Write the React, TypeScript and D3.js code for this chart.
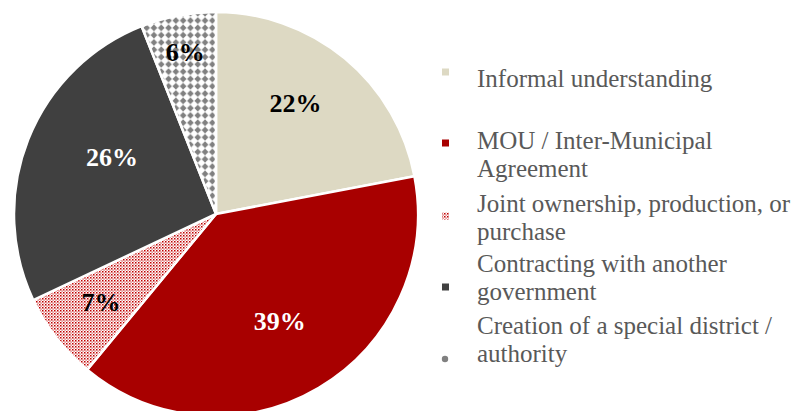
import React, { useEffect, useRef } from 'react';
import * as d3 from 'd3';

// Pie data (start at 12 o'clock, clockwise)
const categories = [
  'Informal understanding',
  'MOU / Inter-Municipal Agreement',
  'Joint ownership, production, or purchase',
  'Contracting with another government',
  'Creation of a special district / authority'
];
const values = [22, 39, 7, 26, 6];
const fills = ['#DDD9C3', '#A80000', 'url(#dots)', '#404040', 'url(#diamonds)'];
const labelColors = ['#000000', '#FFFFFF', '#000000', '#FFFFFF', '#000000'];
// legend text is wrapped the same way as in the original
const legendLines = [
  ['Informal understanding'],
  ['MOU / Inter-Municipal', 'Agreement'],
  ['Joint ownership, production, or', 'purchase'],
  ['Contracting with another', 'government'],
  ['Creation of a special district /', 'authority']
];

const App: React.FC = () => {
  const ref = useRef<SVGSVGElement>(null);

  useEffect(() => {
    if (!ref.current) return;
    const svg = d3.select(ref.current);
    svg.selectAll('*').remove();

    const width = 809;
    const height = 411;
    const cx = 216;
    const cy = 214;
    const radius = 202;
    const serif = '"Liberation Serif", "Times New Roman", Times, serif';

    const defs = svg.append('defs');
    // fine red dot pattern
    const dots = defs.append('pattern').attr('id', 'dots').attr('patternUnits', 'userSpaceOnUse').attr('width', 3).attr('height', 3);
    dots.append('rect').attr('width', 3).attr('height', 3).attr('fill', '#fff');
    dots.append('rect').attr('x', 0).attr('y', 0).attr('width', 1.5).attr('height', 1.5).attr('fill', '#C00000');
    dots.append('rect').attr('x', 1.5).attr('y', 1.5).attr('width', 1.2).attr('height', 1.2).attr('fill', '#D04040');
    // gray diamond pattern
    const dia = defs.append('pattern').attr('id', 'diamonds').attr('patternUnits', 'userSpaceOnUse').attr('width', 7.3).attr('height', 7.3);
    dia.append('rect').attr('width', 7.3).attr('height', 7.3).attr('fill', '#fff');
    dia.append('polygon').attr('points', '3.65,0.3 7.0,3.65 3.65,7.0 0.3,3.65').attr('fill', '#808080');

    svg.append('rect').attr('width', width).attr('height', height).attr('fill', '#fff');

    const pie = d3.pie<number>().value(d => d).sort(null);
    const arcs = pie(values);
    const arc = d3.arc<d3.PieArcDatum<number>>().innerRadius(0).outerRadius(radius);

    const g = svg.append('g').attr('transform', `translate(${cx},${cy})`);
    g.selectAll('path.slice').data(arcs).enter().append('path')
      .attr('class', 'slice')
      .attr('d', arc)
      .attr('fill', (d, i) => fills[i])
      .attr('stroke', '#fff')
      .attr('stroke-width', 2.5)
      .attr('stroke-linejoin', 'round');

    // label distance from centre (share of radius) and a small angle nudge (degrees)
    const labelPos = [0.67, 0.62, 0.72, 0.585, 0.81];
    const labelShift = [-3.6, 0, 0, 6.7, 0];
    g.selectAll('text.lbl').data(arcs).enter().append('text')
      .attr('class', 'lbl')
      .attr('transform', (d, i) => {
        const r = radius * labelPos[i];
        const a = (d.startAngle + d.endAngle) / 2 + (labelShift[i] * Math.PI) / 180;
        return `translate(${r * Math.sin(a)},${-r * Math.cos(a)})`;
      })
      .attr('text-anchor', 'middle')
      .attr('dy', '0.3em')
      .style('font-family', serif)
      .style('font-weight', 'bold')
      .style('font-size', '26px')
      .attr('fill', (d, i) => labelColors[i])
      .text(d => `${d.data}%`);

    // legend
    const lineStart = [78, 140, 203, 263, 325];
    const markerY = [72, 143, 216, 287, 359];
    const lineH = 28.5;
    const legend = svg.append('g');
    categories.forEach((c, i) => {
      if (i === 4) {
        legend.append('circle').attr('cx', 445).attr('cy', markerY[i]).attr('r', 3.2).attr('fill', '#808080');
      } else {
        legend.append('rect').attr('x', 442).attr('y', markerY[i] - 3.5).attr('width', 7).attr('height', 7)
          .attr('fill', fills[i]);
      }
      const t = legend.append('text')
        .attr('x', 477)
        .attr('y', lineStart[i])
        .style('font-family', serif)
        .style('font-size', '25px')
        .attr('fill', '#595959');
      legendLines[i].forEach((l, j) => {
        t.append('tspan').attr('x', 477).attr('dy', j === 0 ? '0.35em' : lineH).text(l);
      });
    });
  }, []);

  return <svg ref={ref} width={809} height={411} style={{ position: 'absolute', left: 0, top: 0 }} />;
};

export default App;
